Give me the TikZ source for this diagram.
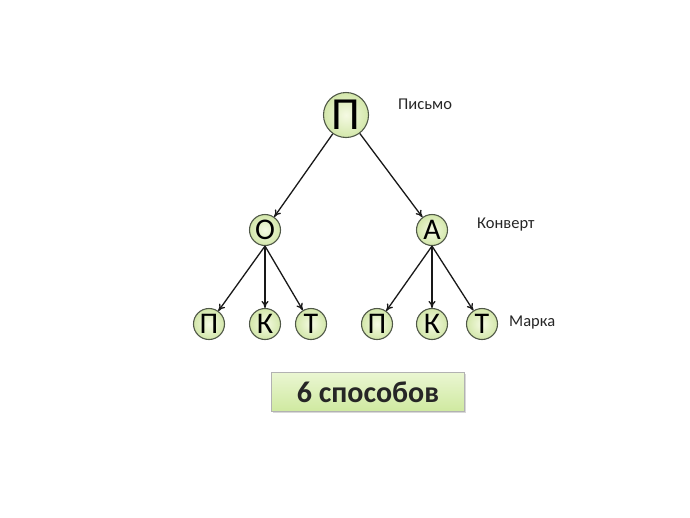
\documentclass[tikz,border=0pt]{standalone}
\usepackage{fontspec}
\setmainfont{Carlito}
\usetikzlibrary{arrows.meta,shadows}
\definecolor{cin}{HTML}{F5FAE3}
\definecolor{cout}{HTML}{D3E7AA}
\definecolor{cedge}{HTML}{505848}
\definecolor{btop}{HTML}{EAF6D2}
\definecolor{bbot}{HTML}{CFE9A0}
\tikzset{
  letter/.style={circle, draw=cedge, line width=1.1pt, inner color=cin, outer color=cout,
    minimum size=31pt, inner sep=0pt, font=\fontsize{30}{30}\selectfont},
  bigletter/.style={letter, minimum size=45pt, font=\fontsize{46}{46}\selectfont},
  lbl/.style={font=\fontsize{16.5}{17}\selectfont, text=black!85, inner sep=0pt},
  arr/.style={-{To[length=7pt,width=7pt]}, line width=1.3pt, black!90}
}
\begin{document}
\begin{tikzpicture}[x=1pt,y=-1pt]
\useasboundingbox[fill=white] (0,0) rectangle (690,517);
\node[bigletter] (top) at (346,115) {П};
\node[letter] (o) at (265,230) {О};
\node[letter] (a) at (432,230) {А};
\node[letter] (p1) at (209,324) {П};
\node[letter] (k1) at (265,324) {К};
\node[letter] (t1) at (311,324) {Т};
\node[letter] (p2) at (377,324) {П};
\node[letter] (k2) at (432,324) {К};
\node[letter] (t2) at (482,324) {Т};
\node[lbl, anchor=west] (l1) at (398,104) {Письмо};
\node[lbl, anchor=west] (l2) at (477,225) {Конверт};
\node[lbl, anchor=west] (l3) at (509,323) {Марка};
\draw[arr] (top) -- (o);
\draw[arr] (top) -- (a);
\draw[arr] (o.south) -- (p1);
\draw[arr] (o.south) -- (k1);
\draw[arr] (o.south) -- (t1);
\draw[arr] (a.south) -- (p2);
\draw[arr] (a.south) -- (k2);
\draw[arr] (a.south) -- (t2);
\node[draw=black!30, line width=0.8pt, top color=btop, bottom color=bbot,
  drop shadow={shadow xshift=1.5pt, shadow yshift=-1.5pt, opacity=0.3},
  minimum width=193pt, minimum height=39pt, inner sep=0pt,
  font=\fontsize{30}{30}\selectfont\bfseries, text=black!85] (box) at (368,392) {6 способов};
\end{tikzpicture}
\end{document}
